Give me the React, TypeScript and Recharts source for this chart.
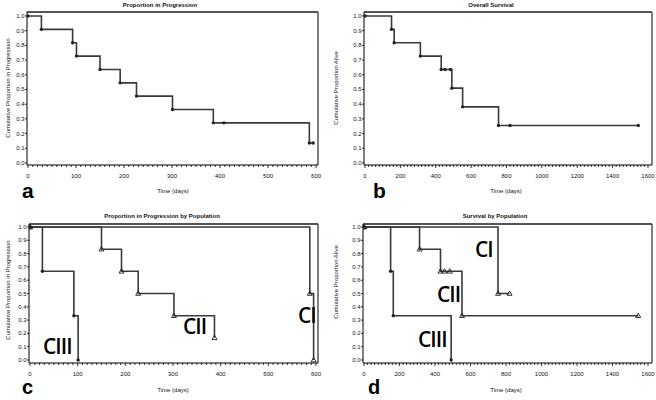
import { LineChart, Line, XAxis, YAxis, ReferenceLine } from 'recharts';

// a: proportion in progression, all patients
const progTime = [0, 28, 93, 101, 150, 192, 226, 301, 386, 408, 586, 594];
const progProp = [1, 0.909, 0.818, 0.727, 0.636, 0.545, 0.455, 0.364, 0.273, 0.273, 0.136, 0.136];

// b: overall survival
const osTime = [0, 150, 165, 313, 431, 453, 483, 491, 552, 755, 820, 1545];
const osProp = [1, 0.909, 0.818, 0.727, 0.636, 0.636, 0.636, 0.509, 0.382, 0.255, 0.255, 0.255];

// c: progression by population
const progCITime = [0, 587, 595];
const progCIProp = [1, 0.5, 0];
const progCIITime = [0, 150, 192, 227, 302, 387];
const progCIIProp = [1, 0.833, 0.667, 0.5, 0.333, 0.167];
const progCIIITime = [0, 26, 92, 101];
const progCIIIProp = [1, 0.667, 0.333, 0];

// d: survival by population
const osCITime = [0, 755, 820];
const osCIProp = [1, 0.5, 0.5];
const osCIITime = [0, 313, 431, 453, 483, 552, 1545];
const osCIIProp = [1, 0.833, 0.667, 0.667, 0.667, 0.333, 0.333];
const osCIIITime = [0, 150, 165, 491];
const osCIIIProp = [1, 0.667, 0.333, 0];

const yTicks = [0, 0.1, 0.2, 0.3, 0.4, 0.5, 0.6, 0.7, 0.8, 0.9, 1];
const yTickLabels = ['0.0', '0.1', '0.2', '0.3', '0.4', '0.5', '0.6', '0.7', '0.8', '0.9', '1.0'];
const xTicks600 = [0, 100, 200, 300, 400, 500, 600];
const xTicks1600 = [0, 200, 400, 600, 800, 1000, 1200, 1400, 1600];

const FONT = 'Liberation Sans, Arial, sans-serif';
const LINE = '#3a3a3a';

const rows = (t: number[], p: number[]) => t.map((x, i) => ({ t: x, p: p[i] }));

const withMinors = (majors: number[], step: number) => {
  const out: number[] = [];
  const max = majors[majors.length - 1];
  for (let v = 0; v <= max; v += step) out.push(v);
  return out;
};

const dotMarker = (props: any) => (
  <circle key={`d${props.index}`} cx={props.cx} cy={props.cy} r={1.7} fill="#222" />
);

const triMarker = (props: any) => {
  const { cx, cy } = props;
  return (
    <path
      key={`t${props.index}`}
      d={`M${cx},${cy - 2.6}L${cx + 2.5},${cy + 1.8}L${cx - 2.5},${cy + 1.8}Z`}
      fill="none"
      stroke="#222"
      strokeWidth={0.9}
    />
  );
};

type Series = { data: { t: number; p: number }[]; marker: (p: any) => any };

type PanelProps = {
  left: number;
  top: number;
  width: number;
  height: number;
  margin: { top: number; right: number; bottom: number; left: number };
  yWidth: number;
  xDomain: [number, number];
  yDomain: [number, number];
  majors: number[];
  minorStep: number;
  series: Series[];
};

function Panel(p: PanelProps) {
  const ticks = withMinors(p.majors, p.minorStep);
  const xTick = (props: any) => {
    const { x, y, payload } = props;
    const major = p.majors.includes(payload.value);
    return (
      <g key={`x${payload.value}`}>
        <line x1={x} x2={x} y1={y} y2={y + (major ? 3 : 2)} stroke="#000" strokeWidth={0.8} />
        {major && (
          <text x={x} y={y + 12.5} textAnchor="middle" fontSize={6} fontFamily={FONT} fill="#111">
            {payload.value}
          </text>
        )}
      </g>
    );
  };
  const yTick = (props: any) => {
    const { x, y, payload } = props;
    return (
      <g key={`y${payload.value}`}>
        <line x1={x - 2} x2={x} y1={y} y2={y} stroke="#000" strokeWidth={0.8} />
        <text x={x - 2.5} y={y + 2} textAnchor="end" fontSize={6} fontFamily={FONT} fill="#111">
          {yTickLabels[yTicks.indexOf(payload.value)]}
        </text>
      </g>
    );
  };
  return (
    <div style={{ position: 'absolute', left: p.left, top: p.top }}>
      <LineChart width={p.width} height={p.height} margin={p.margin}>
        <XAxis
          type="number"
          dataKey="t"
          domain={p.xDomain}
          ticks={ticks}
          interval={0}
          allowDataOverflow
          tickSize={0}
          tickMargin={0}
          tickLine={false}
          tick={xTick}
          height={20}
          axisLine={{ stroke: '#000', strokeWidth: 1 }}
        />
        <YAxis
          type="number"
          dataKey="p"
          domain={p.yDomain}
          ticks={yTicks}
          interval={0}
          allowDataOverflow
          tickSize={0}
          tickMargin={0}
          tickLine={false}
          tick={yTick}
          width={p.yWidth}
          axisLine={{ stroke: '#000', strokeWidth: 1 }}
        />
        <ReferenceLine y={p.yDomain[1]} stroke="#555" strokeWidth={2} ifOverflow="visible" />
        <ReferenceLine x={p.xDomain[1]} stroke="#555" strokeWidth={1.5} ifOverflow="visible" />
        {p.series.map((s, i) => (
          <Line
            key={i}
            data={s.data}
            dataKey="p"
            type="stepAfter"
            stroke={LINE}
            strokeWidth={1.6}
            dot={s.marker}
            activeDot={false}
            isAnimationActive={false}
          />
        ))}
      </LineChart>
    </div>
  );
}

const txt = { fontFamily: FONT, fill: '#111' } as const;

export default function App() {
  return (
    <div style={{ position: 'absolute', left: 0, top: 0, width: 656, height: 400, background: '#fff' }}>
      <Panel
        left={0}
        top={0}
        width={328}
        height={200}
        margin={{ top: 12, right: 10, bottom: 15, left: 0 }}
        yWidth={27}
        xDomain={[-2, 604]}
        yDomain={[-0.0136, 1.027]}
        majors={xTicks600}
        minorStep={10}
        series={[{ data: rows(progTime, progProp), marker: dotMarker }]}
      />
      <Panel
        left={326}
        top={0}
        width={330}
        height={200}
        margin={{ top: 12, right: 4, bottom: 15, left: 0 }}
        yWidth={38}
        xDomain={[-5.6, 1622.6]}
        yDomain={[-0.0136, 1.027]}
        majors={xTicks1600}
        minorStep={20}
        series={[{ data: rows(osTime, osProp), marker: dotMarker }]}
      />
      <Panel
        left={0}
        top={200}
        width={328}
        height={200}
        margin={{ top: 24, right: 10, bottom: 17, left: 0 }}
        yWidth={29}
        xDomain={[-2.1, 604.2]}
        yDomain={[-0.0226, 1.0226]}
        majors={xTicks600}
        minorStep={10}
        series={[
          { data: rows(progCITime, progCIProp), marker: triMarker },
          { data: rows(progCIITime, progCIIProp), marker: triMarker },
          { data: rows(progCIIITime, progCIIIProp), marker: dotMarker },
        ]}
      />
      <Panel
        left={326}
        top={200}
        width={330}
        height={200}
        margin={{ top: 24, right: 4, bottom: 17, left: 0 }}
        yWidth={37}
        xDomain={[-5.6, 1622.5]}
        yDomain={[-0.0226, 1.0226]}
        majors={xTicks1600}
        minorStep={20}
        series={[
          { data: rows(osCITime, osCIProp), marker: triMarker },
          { data: rows(osCIITime, osCIIProp), marker: triMarker },
          { data: rows(osCIIITime, osCIIIProp), marker: dotMarker },
        ]}
      />
      <svg width={656} height={400} style={{ position: 'absolute', left: 0, top: 0, pointerEvents: 'none' }}>
        <text x={160} y={6.5} textAnchor="middle" fontSize={6} fontWeight="bold" {...txt}>Proportion in Progression</text>
        <text x={491} y={6.5} textAnchor="middle" fontSize={6} fontWeight="bold" {...txt}>Overall Survival</text>
        <text x={162} y={217.5} textAnchor="middle" fontSize={6} fontWeight="bold" {...txt}>Proportion in Progression by Population</text>
        <text x={495} y={217.5} textAnchor="middle" fontSize={6} fontWeight="bold" {...txt}>Survival by Population</text>

        <text x={173} y={193} textAnchor="middle" fontSize={6} {...txt}>Time (days)</text>
        <text x={506} y={193} textAnchor="middle" fontSize={6} {...txt}>Time (days)</text>
        <text x={173} y={392} textAnchor="middle" fontSize={6} {...txt}>Time (days)</text>
        <text x={506} y={392} textAnchor="middle" fontSize={6} {...txt}>Time (days)</text>

        <text transform="rotate(-90 10 88)" x={10} y={88} textAnchor="middle" fontSize={6} {...txt}>Cumulative Proportion in Progression</text>
        <text transform="rotate(-90 338 88)" x={338} y={88} textAnchor="middle" fontSize={6} {...txt}>Cumulative Proportion Alive</text>
        <text transform="rotate(-90 10 290)" x={10} y={290} textAnchor="middle" fontSize={6} {...txt}>Cumulative Proportion in Progression</text>
        <text transform="rotate(-90 338 282)" x={338} y={282} textAnchor="middle" fontSize={6} {...txt}>Cumulative Proportion Alive</text>

        <text x={22} y={198} fontSize={21} fontWeight="bold" fontFamily={FONT} fill="#000">a</text>
        <text x={373} y={198} fontSize={21} fontWeight="bold" fontFamily={FONT} fill="#000">b</text>
        <text x={22} y={394} fontSize={20} fontWeight="bold" fontFamily={FONT} fill="#000">c</text>
        <text x={368} y={394} fontSize={20} fontWeight="bold" fontFamily={FONT} fill="#000">d</text>

        <g fontFamily="Open Sans, sans-serif" fontWeight={600} fontSize={21} fill="#000" letterSpacing={-1}>
          <text x={43} y={354}>CIII</text>
          <text x={183} y={334}>CII</text>
          <text x={298} y={323}>CI</text>
          <text x={475} y={257}>CI</text>
          <text x={437} y={302}>CII</text>
          <text x={418} y={347}>CIII</text>
        </g>
      </svg>
    </div>
  );
}
